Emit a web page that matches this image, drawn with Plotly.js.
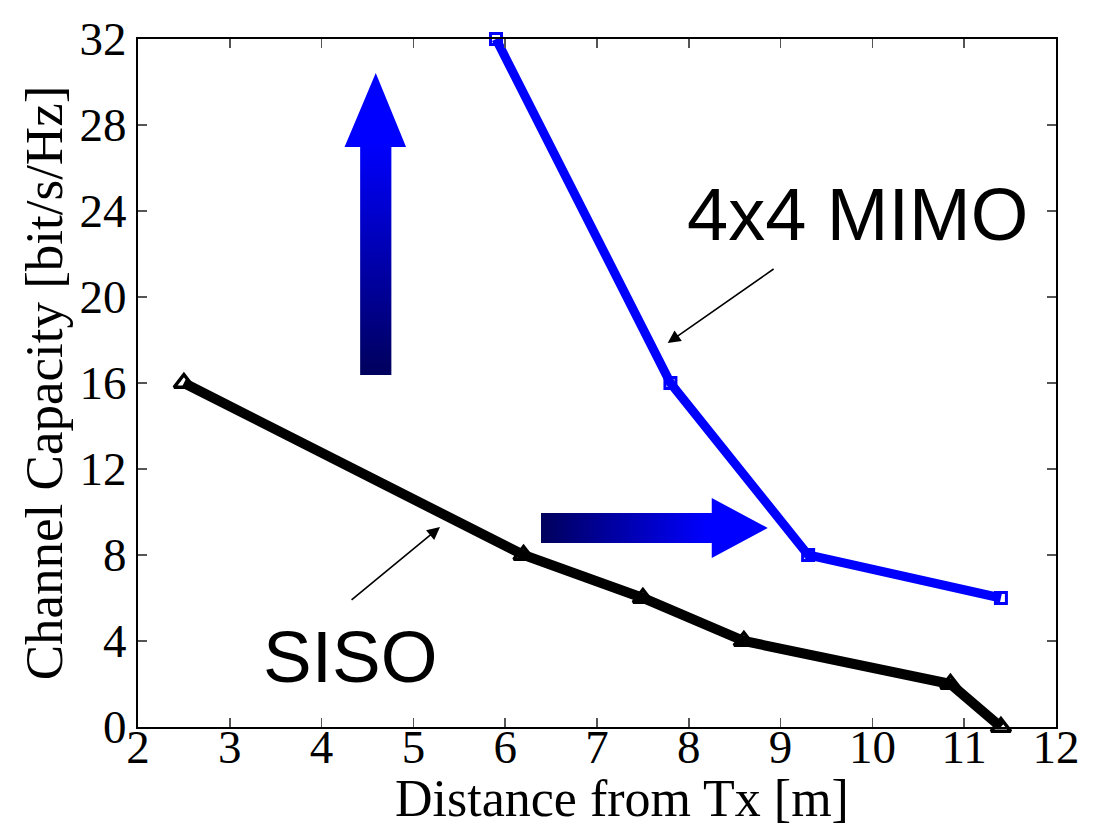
<!DOCTYPE html>
<html>
<head>
<meta charset="utf-8">
<script src="https://cdn.plot.ly/plotly-3.0.1.min.js"></script>
<style>html,body{margin:0;padding:0;background:#fff;}#chart{width:1102px;height:829px;}</style>
</head>
<body>
<div id="chart"></div>
<script>
// Data
const mimoDistance = [5.9, 7.8, 9.3, 11.4];
const mimoCapacity = [32, 16, 8, 6];
const sisoDistance = [2.5, 6.2, 7.5, 8.6, 10.85, 11.4];
const sisoCapacity = [16, 8, 6, 4, 2, 0];
const xTicks = [2, 3, 4, 5, 6, 7, 8, 9, 10, 11, 12];
const yTicks = [0, 4, 8, 12, 16, 20, 24, 28, 32];
const xTitle = 'Distance from Tx [m]';
const yTitle = 'Channel Capacity [bit/s/Hz]';

// Decorative arrows (data coordinates)
const upArrowX = [4.42, 4.76, 4.76, 4.92, 4.59, 4.25, 4.42, 4.42];
const upArrowY = [16.37, 16.37, 26.98, 26.98, 30.42, 26.98, 26.98, 16.37];
const rightArrowX = [6.39, 8.25, 8.25, 8.86, 8.25, 8.25, 6.39, 6.39];
const rightArrowY = [8.56, 8.56, 7.86, 9.26, 10.65, 9.95, 9.95, 8.56];

const gradScale = [[0, '#00005c'], [1, '#0000ff']];

const traces = [
  {x: upArrowX, y: upArrowY, type: 'scatter', mode: 'none', fill: 'toself',
   fillgradient: {type: 'vertical', colorscale: gradScale, start: 16.37, stop: 27.2},
   hoverinfo: 'skip', showlegend: false},
  {x: rightArrowX, y: rightArrowY, type: 'scatter', mode: 'none', fill: 'toself',
   fillgradient: {type: 'horizontal', colorscale: gradScale, start: 6.39, stop: 8.2},
   hoverinfo: 'skip', showlegend: false},
  {x: mimoDistance, y: mimoCapacity, type: 'scatter', mode: 'markers', cliponaxis: false,
   marker: {symbol: 'square', size: 11, color: '#ffffff', line: {color: '#0000ff', width: 3}},
   hoverinfo: 'skip', showlegend: false},
  {x: mimoDistance, y: mimoCapacity, type: 'scatter', mode: 'lines', cliponaxis: false,
   line: {color: '#0000ff', width: 9}, name: '4x4 MIMO', showlegend: false},
  {x: sisoDistance, y: sisoCapacity, type: 'scatter', mode: 'markers', cliponaxis: false,
   marker: {symbol: 'triangle-up', size: 17, color: '#ffffff', line: {color: '#000000', width: 3.5}},
   hoverinfo: 'skip', showlegend: false},
  {x: sisoDistance, y: sisoCapacity, type: 'scatter', mode: 'lines', cliponaxis: false,
   line: {color: '#000000', width: 10}, name: 'SISO', showlegend: false}
];

const serif = 'Liberation Serif, Times New Roman, serif';
const axisCommon = {
  showline: true, linecolor: '#000', linewidth: 2, mirror: 'ticks',
  ticks: 'inside', ticklen: 9, tickwidth: 1.5, tickcolor: '#555',
  showgrid: false, zeroline: false,
  tickfont: {family: serif, size: 47, color: '#000'}
};

const layout = {
  width: 1102, height: 829,
  margin: {l: 138, r: 46, t: 39, b: 102},
  paper_bgcolor: '#fff', plot_bgcolor: '#fff',
  showlegend: false,
  xaxis: Object.assign({}, axisCommon, {
    range: [2, 12], tickvals: xTicks, ticktext: xTicks.map(String),
    ticklabelstandoff: -22
  }),
  yaxis: Object.assign({}, axisCommon, {
    range: [0, 32], tickvals: yTicks, ticktext: yTicks.map(String),
    title: {text: yTitle, standoff: 0,
            font: {family: serif, size: 53, color: '#000'}}
  }),
  annotations: [
    {x: 0.527, y: -0.1483, xref: 'paper', yref: 'paper', xanchor: 'center', yanchor: 'bottom',
     text: xTitle, showarrow: false,
     font: {family: serif, size: 52, color: '#000'}},
    {x: 9.84, y: 23.85, xref: 'x', yref: 'y', text: '4x4 MIMO', showarrow: false,
     font: {family: 'Liberation Sans, Arial, sans-serif', size: 74, color: '#000'}},
    {x: 4.31, y: 3.3, xref: 'x', yref: 'y', text: 'SISO', showarrow: false,
     font: {family: 'Liberation Sans, Arial, sans-serif', size: 73, color: '#000'}},
    {x: 7.77, y: 17.86, ax: 8.94, ay: 21.35, xref: 'x', yref: 'y', axref: 'x', ayref: 'y',
     text: '', showarrow: true, arrowhead: 2, arrowsize: 1.6, arrowwidth: 1.6, arrowcolor: '#000'},
    {x: 5.29, y: 9.30, ax: 4.31, ay: 5.86, xref: 'x', yref: 'y', axref: 'x', ayref: 'y',
     text: '', showarrow: true, arrowhead: 2, arrowsize: 1.6, arrowwidth: 1.6, arrowcolor: '#000'}
  ]
};

Plotly.newPlot('chart', traces, layout, {staticPlot: true, displayModeBar: false});
</script>
</body>
</html>
